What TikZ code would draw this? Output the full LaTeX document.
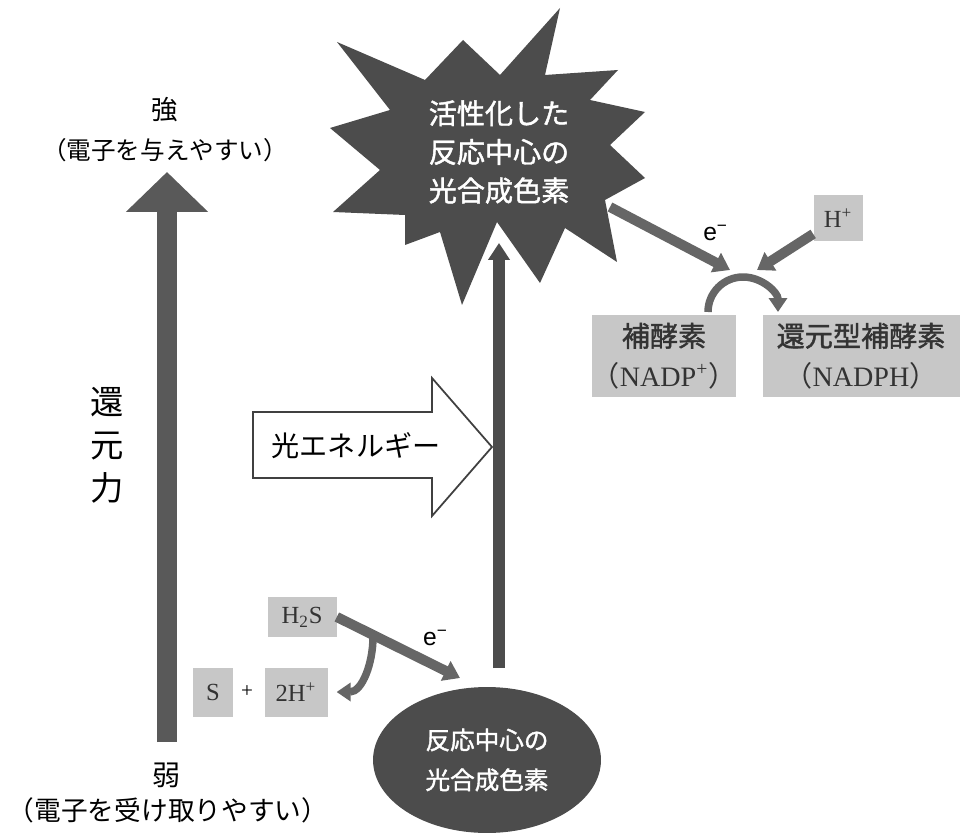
\documentclass[tikz,border=0pt]{standalone}
\usepackage{fontspec}
\setmainfont{Liberation Serif}
\newfontfamily\jp{Noto Sans CJK JP}
\newfontfamily\jpb[FakeBold=1.5]{Noto Sans CJK JP}
\newfontfamily\lsans{Liberation Sans}
\usetikzlibrary{arrows.meta,calc,shapes.geometric,positioning}
\begin{document}
\begin{tikzpicture}[x=0.02cm,y=0.02cm,
  stip/.style={fill=black!22,inner sep=0pt,text=black!80,font=\fontsize{14}{16}\selectfont},
  dark/.style={fill=black!70,text=white,align=center},
  bigup/.style={draw=black!65,line width=0.4cm,-{Triangle[width=1.6cm,length=0.8cm]}},
  vert/.style={draw=black!70,line width=0.24cm,-{Triangle[width=0.42cm,length=0.34cm]}},
  elec/.style={draw=black!60,line width=0.2cm,-{Triangle[width=0.42cm,length=0.32cm]}},
  curvearrow/.style={draw=black!60,line width=0.15cm,-{Triangle[width=0.36cm,length=0.28cm]}},
  lbl/.style={font=\jp\fontsize{14}{16}\selectfont}]
\useasboundingbox (0,0) rectangle (962,-837);
\node[lbl,font=\jp\fontsize{15}{16}\selectfont] (strong) at (165,-110) {強};
\node[lbl] (strongnote) at (165,-150) {（電子を与えやすい）};
\node[lbl,font=\jp\fontsize{16}{16}\selectfont] (weak) at (167,-775) {弱};
\node[lbl,font=\jp\fontsize{15.2}{16}\selectfont] (weaknote) at (168,-810) {（電子を受け取りやすい）};
\node[font=\jp\fontsize{19}{24.4}\selectfont,align=center] (power) at (107,-445) {還\\元\\力};
\coordinate (lowend) at (167,-742);
\coordinate (highend) at (167,-172);
\draw[bigup] (lowend) -- (highend);
\fill[black!70] (560,-8) -- (545,-75) -- (618,-70) -- (590,-100) -- (645,-112) -- (610,-145) -- (645,-178) -- (605,-200) -- (617,-262) -- (565,-228) -- (540,-283) -- (497,-222) -- (462,-305) -- (440,-232) -- (405,-245) -- (405,-215) -- (333,-212) -- (380,-170) -- (330,-128) -- (390,-110) -- (337,-42) -- (425,-80) -- (463,-40) -- (500,-75) -- cycle;
\node[dark,fill=none,font=\jpb\fontsize{16}{22}\selectfont] (act) at (499,-152) {活性化した\\反応中心の\\光合成色素};
\node[dark,ellipse,minimum width=4.56cm,minimum height=2.92cm,font=\jpb\fontsize{14}{22.7}\selectfont] (rc) at (487,-760) {反応中心の\\光合成色素};
\coordinate (rcup) at (499,-668);
\coordinate (acttip) at (499,-243);
\draw[vert] (rcup) -- (acttip);
\draw[draw=black!75,line width=1pt,fill=white] (253,-412) -- (432,-412) -- (432,-378) -- (492,-447) -- (432,-516) -- (432,-478) -- (253,-478) -- cycle;
\node[font=\jp\fontsize{16}{16}\selectfont] (light) at (356,-446) {光エネルギー};
\node[stip,minimum width=1.38cm,minimum height=0.8cm] (h2s) at (302,-617) {H\textsubscript{2}S};
\node[stip,minimum width=0.8cm,minimum height=0.98cm] (s) at (213,-692) {S};
\node[font=\fontsize{12}{14}\selectfont] (plus) at (247,-692) {+};
\node[stip,minimum width=1.26cm,minimum height=0.98cm] (hh) at (296,-692) {2H\textsuperscript{+}};
\coordinate (rcin) at (460,-678);
\coordinate (split) at (373,-637);
\draw[elec] (h2s.east) -- node[pos=.8,above=5pt,font=\lsans\fontsize{14}{16}\selectfont] {e\textsuperscript{−}} (rcin);
\draw[curvearrow] (split) to[out=-90,in=0] ([xshift=5]hh.east);
\node[stip,minimum width=0.98cm,minimum height=0.94cm] (hp) at (838,-218) {H\textsuperscript{+}};
\node[stip,minimum width=2.76cm,minimum height=1.66cm,align=center,font=\fontsize{16}{22.7}\selectfont] (nadp) at (664,-356) {\jpb 補酵素\\\jp（\rmfamily NADP\textsuperscript{+}\jp）};
\node[stip,minimum width=3.94cm,minimum height=1.66cm,align=center,font=\fontsize{16}{22.7}\selectfont] (nadph) at (861,-356) {\jpb 還元型補酵素\\\jp（\rmfamily NADPH\jp）};
\coordinate (actout) at (610,-207);
\coordinate (meet) at (730,-270);
\coordinate (hpin) at (757,-270);
\draw[elec] (actout) -- node[pos=.88,above=6pt,font=\lsans\fontsize{14}{16}\selectfont] {e\textsuperscript{−}} (meet);
\draw[elec] (hp) -- (hpin);
\coordinate (arcA) at (708,-312);
\draw[curvearrow] (arcA) arc[start angle=180,end angle=0,radius=0.7cm];
\end{tikzpicture}
\end{document}
